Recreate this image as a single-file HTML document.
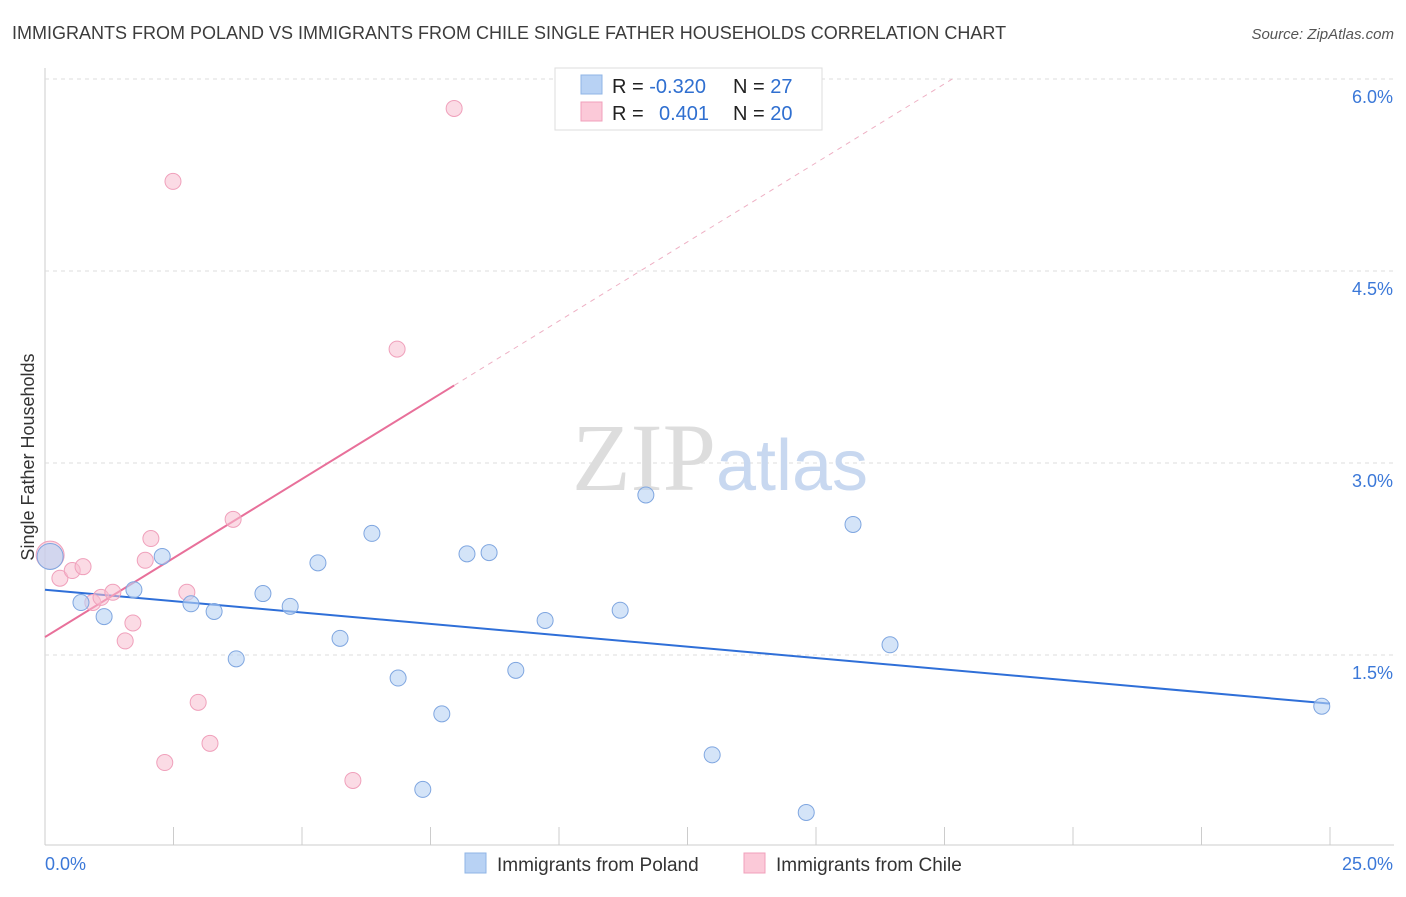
<!DOCTYPE html>
<html><head><meta charset="utf-8"><style>
body{margin:0;background:#fff;font-family:"Liberation Sans",sans-serif;}
</style></head><body>
<svg id="chart" width="1406" height="892" xmlns="http://www.w3.org/2000/svg" font-family="Liberation Sans, sans-serif">
<text x="12" y="39" font-size="18" fill="#3c3c3c">IMMIGRANTS FROM POLAND VS IMMIGRANTS FROM CHILE SINGLE FATHER HOUSEHOLDS CORRELATION CHART</text>
<text x="1394" y="39" font-size="15" fill="#555" text-anchor="end" font-style="italic">Source: ZipAtlas.com</text>
<g id="grid"></g>
<text x="720" y="490" font-size="96" text-anchor="middle" fill="#ddd" font-family="Liberation Serif, serif">ZIP<tspan fill="#c8d8f0" font-family="Liberation Sans, sans-serif" font-size="72">atlas</tspan></text>
<text transform="translate(34,457) rotate(-90)" font-size="18" fill="#333" text-anchor="middle">Single Father Households</text>
<g id="lines"></g><g id="pts"></g>
<g>
<rect x="555" y="68" width="267" height="62" fill="#fff" stroke="#ddd"/>
<rect x="581" y="75" width="21" height="19" fill="#b8d2f4" stroke="#8fb4e6"/>
<rect x="581" y="102" width="21" height="19" fill="#fbc9d8" stroke="#f0a0bb"/>
<text x="612" y="93" font-size="20" fill="#222">R = <tspan fill="#2f6fd0">-0.320</tspan><tspan x="733">N = </tspan><tspan fill="#2f6fd0">27</tspan></text>
<text x="612" y="120" font-size="20" fill="#222">R = <tspan x="659" fill="#2f6fd0">0.401</tspan><tspan x="733">N = </tspan><tspan fill="#2f6fd0">20</tspan></text>
</g>
<g>
<rect x="465" y="853" width="21" height="20" fill="#b8d2f4" stroke="#8fb4e6"/>
<text x="497" y="871" font-size="19" fill="#333">Immigrants from Poland</text>
<rect x="744" y="853" width="21" height="20" fill="#fbc9d8" stroke="#f0a0bb"/>
<text x="776" y="871" font-size="19" fill="#333">Immigrants from Chile</text>
</g>
</svg>
<script>
const polandX=[0.1,0.7,1.15,1.73,2.28,2.84,3.29,3.72,4.24,4.77,5.31,5.74,6.36,6.87,7.35,7.72,8.21,8.64,9.16,9.73,11.19,11.69,12.98,14.81,15.72,16.44,24.84];
const polandY=[2.27,1.91,1.80,2.01,2.27,1.90,1.84,1.47,1.98,1.88,2.22,1.63,2.45,1.32,0.45,1.04,2.29,2.30,1.38,1.77,1.85,2.75,0.72,0.27,2.52,1.58,1.10];
const chileX=[0.1,0.29,0.53,0.74,0.93,1.09,1.32,1.56,1.71,1.95,2.06,2.33,2.49,2.76,2.98,3.21,3.66,5.99,6.85,7.96];
const chileY=[2.28,2.10,2.16,2.19,1.91,1.95,1.99,1.61,1.75,2.24,2.41,0.66,5.20,1.99,1.13,0.81,2.56,0.52,3.89,5.77];
const yTicks=[1.5,3.0,4.5,6.0];
const xTickVals=[2.5,5,7.5,10,12.5,15,17.5,20,22.5,25];
const polandTrend=[2.01,-0.0356]; // intercept, slope
const chileTrend=[1.64,0.247];
const sx=v=>45+v*51.4, sy=v=>847-v*128;
const NS="http://www.w3.org/2000/svg";
function mk(p,t,a){const e=document.createElementNS(NS,t);for(const k in a)e.setAttribute(k,a[k]);p.appendChild(e);return e;}
const g=document.getElementById('grid');
const ax=mk(g,'line',{x1:45,y1:68,x2:45,y2:845,stroke:'#ccc'});


const bx=mk(g,'line',{x1:45,y1:845,x2:1394,y2:845,stroke:'#ccc'});


yTicks.forEach(v=>{
 const l=mk(g,'line',{x1:45,y1:sy(v),x2:1394,y2:sy(v),stroke:'#ddd','stroke-dasharray':'4,4'});
 
 
 const t=mk(g,'text',{x:1393,y:sy(v)+24,'font-size':18,fill:'#3b78d8','text-anchor':'end'});
 t.textContent=v.toFixed(1)+'%';
 
 
});
xTickVals.forEach(v=>{
 const l=mk(g,'line',{x1:sx(v),y1:827,x2:sx(v),y2:845,stroke:'#ccc'});
 
 
});
const t0=mk(g,'text',{x:45,y:870,'font-size':18,fill:'#3b78d8'});t0.textContent='0.0%';


const t1=mk(g,'text',{x:1393,y:870,'font-size':18,fill:'#3b78d8','text-anchor':'end'});t1.textContent='25.0%';


const L=document.getElementById('lines');
const pl=mk(L,'line',{x1:sx(0),y1:sy(polandTrend[0]),x2:sx(25),y2:sy(polandTrend[0]+25*polandTrend[1]),stroke:'#2f6fd8','stroke-width':2});


const cMax=Math.max(...chileX), cEnd=(6.0-chileTrend[0])/chileTrend[1];
const cl=mk(L,'line',{x1:sx(0),y1:sy(chileTrend[0]),x2:sx(cMax),y2:sy(chileTrend[0]+cMax*chileTrend[1]),stroke:'#e8709a','stroke-width':2});


const cd=mk(L,'line',{x1:sx(cMax),y1:sy(chileTrend[0]+cMax*chileTrend[1]),x2:sx(cEnd),y2:sy(6.0),stroke:'#eeb0c4','stroke-width':1,'stroke-dasharray':'5,5'});


const P=document.getElementById('pts');
chileX.forEach((x,i)=>{
 const c=mk(P,'circle',{cx:sx(x),cy:sy(chileY[i]),r:i==0?14:8,fill:'rgba(248,190,208,0.55)',stroke:'#f0a0bb','stroke-width':1});
 
 
});
polandX.forEach((x,i)=>{
 const c=mk(P,'circle',{cx:sx(x),cy:sy(polandY[i]),r:i==0?13:8,fill:'rgba(184,210,244,0.6)',stroke:'#7fa6e0','stroke-width':1});
 
 
});
</script>
</body></html>
